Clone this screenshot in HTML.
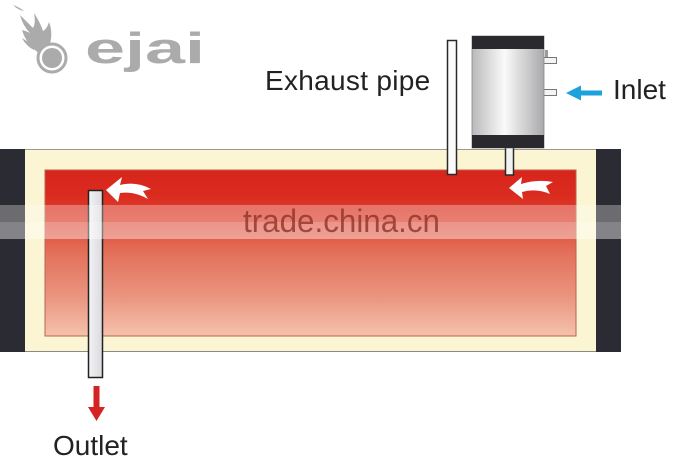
<!DOCTYPE html>
<html><head><meta charset="utf-8"><style>
html,body{margin:0;padding:0;background:#fff;}
body{width:682px;height:468px;overflow:hidden;}
svg{display:block;}
</style></head><body>
<svg width="682" height="468" viewBox="0 0 682 468" xmlns="http://www.w3.org/2000/svg">
<defs>
<linearGradient id="red" x1="0" y1="170" x2="0" y2="337" gradientUnits="userSpaceOnUse">
<stop offset="0" stop-color="#d8251b"/>
<stop offset="0.15" stop-color="#da2b1f"/>
<stop offset="0.32" stop-color="#de4a36"/>
<stop offset="0.5" stop-color="#e3715b"/>
<stop offset="0.75" stop-color="#ea937e"/>
<stop offset="1" stop-color="#f5c3ad"/>
</linearGradient>
<linearGradient id="tank" x1="472" y1="0" x2="544" y2="0" gradientUnits="userSpaceOnUse">
<stop offset="0" stop-color="#b9b9bb"/>
<stop offset="0.45" stop-color="#fafafa"/>
<stop offset="1" stop-color="#a9a9ab"/>
</linearGradient>
<linearGradient id="pipe" x1="88" y1="0" x2="103" y2="0" gradientUnits="userSpaceOnUse">
<stop offset="0" stop-color="#f4f4f6"/>
<stop offset="1" stop-color="#d9d9de"/>
</linearGradient>
</defs>

<!-- logo -->
<g fill="#ababab">
<path d="M13,5 Q19,7 24,11 Q18,10 13,5 Z"/>
<path d="M20,15 Q23,26 30,33 Q26,31 22,30 Q26,44 40,54 L50,44 Q53,32 49,22 Q47,29 43,31 Q40,22 34,13 Q36,23 33,28 Q27,22 20,15 Z"/>
<path d="M22,38 Q28,42 36,46 L34,50 Q26,46 22,38 Z"/>
</g>
<circle cx="52" cy="58" r="14" fill="#fff" stroke="#ababab" stroke-width="3"/>
<circle cx="52" cy="58" r="10" fill="#ababab"/>
<text x="85" y="63" font-family="Liberation Sans, sans-serif" font-weight="bold" font-size="44" fill="#ababab" textLength="120" lengthAdjust="spacingAndGlyphs">ejai</text>

<!-- outer box -->
<rect x="0" y="149" width="25" height="203" fill="#2b2b33"/>
<rect x="596" y="149" width="25" height="203" fill="#2b2b33"/>
<rect x="25" y="149" width="571" height="203" fill="#fbf5d3"/>
<line x1="25" y1="149.5" x2="596" y2="149.5" stroke="#9a9a92" stroke-width="1"/>
<line x1="25" y1="351.5" x2="596" y2="351.5" stroke="#8a8a84" stroke-width="1"/>
<rect x="45" y="170" width="531" height="166" fill="url(#red)" stroke="#b86450" stroke-width="1"/>

<!-- pipes -->
<rect x="447.5" y="40.5" width="9" height="134" fill="#fafafa" stroke="#2a2a2a" stroke-width="1.5"/>
<rect x="505.5" y="147" width="8" height="28" fill="#f2f2f2" stroke="#2a2a2a" stroke-width="1.5"/>
<rect x="88.5" y="190.5" width="14" height="187" fill="url(#pipe)" stroke="#222" stroke-width="1.5"/>

<!-- tank -->
<rect x="545" y="50" width="3" height="8" fill="#9a9a9a"/>
<rect x="540.5" y="57.5" width="16" height="6" fill="#f4f4f4" stroke="#777" stroke-width="1"/>
<rect x="540.5" y="89.5" width="16" height="6" fill="#f4f4f4" stroke="#777" stroke-width="1"/>
<rect x="472" y="36" width="72" height="112" fill="url(#tank)" stroke="#888" stroke-width="0.8"/>
<rect x="472" y="36" width="72" height="13" fill="#2a2a2e"/>
<rect x="472" y="135" width="72" height="13" fill="#2a2a2e"/>

<!-- curved white arrows -->
<path d="M106,190 L122,177 L120,185 Q136,181 151,189 L143,191 L148,199 Q134,191 120,193 L118,202 Z" fill="#fff"/>
<path d="M509,188 L522,177 L521,184 Q537,179 553,182 L546,186 L550,194 Q536,188 522,192 L523,199 Z" fill="#fff"/>

<!-- blue inlet arrow -->
<rect x="578" y="90.5" width="24" height="5" fill="#1ea2dc"/>
<polygon points="566,93 581,85.5 581,100.5" fill="#1ea2dc"/>

<!-- red outlet arrow -->
<rect x="93.5" y="386" width="6" height="24" fill="#d52222"/>
<polygon points="88,407 105,407 96.5,421" fill="#d52222"/>

<!-- labels -->
<g font-family="Liberation Sans, Arial, sans-serif" font-size="28" fill="#222">
<text x="265" y="90" letter-spacing="0.3">Exhaust pipe</text>
<text x="613" y="99">Inlet</text>
<text x="53" y="455">Outlet</text>
</g>

<!-- watermark band -->
<rect x="0" y="205" width="682" height="17" fill="#fff" opacity="0.3"/>
<rect x="0" y="222" width="682" height="17" fill="#fff" opacity="0.42"/>
<text x="243" y="232" font-family="Liberation Sans, Arial, sans-serif" font-size="32" fill="#8e3328" fill-opacity="0.8" textLength="197" lengthAdjust="spacingAndGlyphs">trade.china.cn</text>
</svg>
</body></html>
